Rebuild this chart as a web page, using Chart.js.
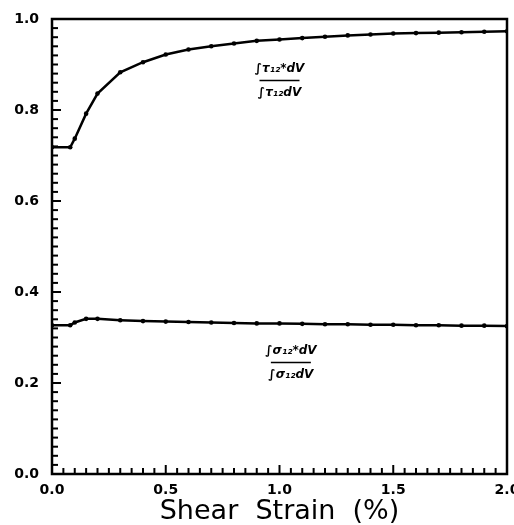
<!DOCTYPE html>
<html>
<head>
<meta charset="utf-8">
<script src="https://cdn.jsdelivr.net/npm/chart.js@4.4.1/dist/chart.umd.min.js"></script>
<style>
  html, body { margin: 0; padding: 0; background: #fff; }
  #wrap { width: 514px; height: 525px; }
</style>
</head>
<body>
<div id="wrap"><canvas id="chartStrain"></canvas></div>
<script>
// shear strain (%) sample points
const strain = [0, 0.08, 0.1, 0.15, 0.2, 0.3, 0.4, 0.5, 0.6, 0.7, 0.8, 0.9, 1.0,
                1.1, 1.2, 1.3, 1.4, 1.5, 1.6, 1.7, 1.8, 1.9, 2.0];
// upper curve (tau ratio)
const ratioTau = [0.718, 0.718, 0.737, 0.792, 0.836, 0.883, 0.905, 0.922, 0.933, 0.940, 0.946, 0.952, 0.955,
                  0.958, 0.961, 0.964, 0.966, 0.968, 0.969, 0.970, 0.971, 0.972, 0.973];
// lower curve (sigma ratio)
const ratioSigma = [0.327, 0.327, 0.333, 0.341, 0.341, 0.338, 0.336, 0.335, 0.334, 0.333, 0.332, 0.331, 0.331,
                    0.330, 0.329, 0.329, 0.328, 0.328, 0.327, 0.327, 0.326, 0.326, 0.325];
const yTicks = [0, 0.2, 0.4, 0.6, 0.8, 1.0];
const xTicks = [0, 0.5, 1.0, 1.5, 2.0];

// labels placed next to each curve: [x, y, numerator, denominator]
const curveLabels = [
  [1.0, 0.865, "\u222Bτ\u2081\u2082*dV", "\u222Bτ\u2081\u2082dV"],
  [1.05, 0.245, "\u222Bσ\u2081\u2082*dV", "\u222Bσ\u2081\u2082dV"]
];

const pts = (ys) => strain.map((x, i) => ({ x: x, y: ys[i] }));

// inward ticks, frame and fraction labels
const framePlugin = {
  id: "framePlugin",
  afterDraw(chart) {
    const ctx = chart.ctx;
    const a = chart.chartArea;
    const xs = chart.scales.x, ys = chart.scales.y;
    ctx.save();
    ctx.strokeStyle = "#000";
    ctx.lineWidth = 2.5;
    ctx.strokeRect(a.left, a.top, a.right - a.left, a.bottom - a.top);
    ctx.lineWidth = 2;
    for (let i = 0; i <= 50; i++) {
      const py = ys.getPixelForValue(i * 0.02);
      const len = i % 10 === 0 ? 9 : 6;
      ctx.beginPath();
      ctx.moveTo(a.left, py);
      ctx.lineTo(a.left + len, py);
      ctx.stroke();
    }
    for (let i = 0; i <= 40; i++) {
      const px = xs.getPixelForValue(i * 0.05);
      const len = i % 10 === 0 ? 9 : 6;
      ctx.beginPath();
      ctx.moveTo(px, a.bottom);
      ctx.lineTo(px, a.bottom - len);
      ctx.stroke();
    }
    ctx.fillStyle = "#000";
    ctx.textAlign = "center";
    ctx.textBaseline = "middle";
    ctx.font = "italic bold 12px 'DejaVu Sans'";
    curveLabels.forEach(([x, y, num, den]) => {
      const px = xs.getPixelForValue(x);
      const py = ys.getPixelForValue(y);
      ctx.fillText(num, px, py - 12);
      ctx.fillText(den, px, py + 12);
      ctx.lineWidth = 1.5;
      ctx.beginPath();
      ctx.moveTo(px - 20, py);
      ctx.lineTo(px + 20, py);
      ctx.stroke();
    });
    ctx.restore();
  }
};

const tickFont = { family: "'DejaVu Sans'", size: 14, weight: "bold" };

const configStrain = {
  type: "scatter",
  data: {
    datasets: [
      { data: pts(ratioTau), showLine: true },
      { data: pts(ratioSigma), showLine: true }
    ]
  },
  options: {
    responsive: true,
    maintainAspectRatio: false,
    animation: false,
    layout: { padding: { top: 19, right: 7, left: 0, bottom: 0 } },
    elements: {
      line: { borderColor: "#000", borderWidth: 2.5, tension: 0 },
      point: { radius: 2.3, backgroundColor: "#000", borderColor: "#000", borderWidth: 0 }
    },
    plugins: { legend: { display: false }, tooltip: { enabled: false } },
    scales: {
      x: {
        type: "linear", min: 0, max: 2,
        grid: { drawOnChartArea: false, drawTicks: false },
        border: { display: false },
        afterBuildTicks: (s) => { s.ticks = xTicks.map(v => ({ value: v })); },
        afterFit: (s) => { s.height = 51; s.paddingLeft = 0; s.paddingRight = 0; },
        ticks: {
          color: "#000", font: tickFont, padding: 8, maxRotation: 0,
          callback: (v) => v.toFixed(1)
        },
        title: {
          display: true, text: "Shear  Strain  (%)", color: "#000", padding: 0,
          font: { family: "'DejaVu Sans'", size: 27, lineHeight: 1.0 }
        }
      },
      y: {
        type: "linear", min: 0, max: 1,
        grid: { drawOnChartArea: false, drawTicks: false },
        border: { display: false },
        afterBuildTicks: (s) => { s.ticks = yTicks.map(v => ({ value: v })); },
        afterFit: (s) => { s.width = 52; s.paddingTop = 0; s.paddingBottom = 0; },
        ticks: {
          color: "#000", font: tickFont, padding: 13,
          callback: (v) => v.toFixed(1)
        }
      }
    }
  },
  plugins: [framePlugin]
};

var chartStrain = new Chart(document.getElementById("chartStrain"), configStrain);
</script>
</body>
</html>
